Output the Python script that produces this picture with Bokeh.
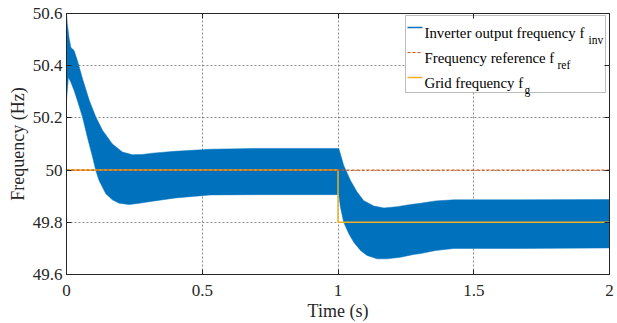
from bokeh.plotting import figure
from bokeh.models import (FixedTicker, LinearAxis, Label, Range1d, Arrow, BoxAnnotation,
                          CustomJSTickFormatter)
from bokeh.embed import file_html
from bokeh.resources import INLINE

# Inverter output frequency: upper / lower envelope of the fast oscillation (Hz)
t_upper = [0.0, 0.003, 0.01, 0.016, 0.028, 0.04, 0.059, 0.084, 0.108, 0.133, 0.169,
           0.206, 0.243, 0.28, 0.317, 0.4, 0.53, 0.7, 1.003, 1.021, 1.046, 1.071, 1.095,
           1.132, 1.169, 1.218, 1.267, 1.304, 1.36, 1.426, 1.672, 2.0]
f_upper = [50.6, 50.56, 50.503, 50.47, 50.458, 50.42, 50.35, 50.267, 50.203, 50.152, 50.10,
           50.069, 50.059, 50.06, 50.065, 50.072, 50.08, 50.083, 50.083, 50.018, 49.96, 49.915,
           49.883, 49.862, 49.855, 49.86, 49.868, 49.873, 49.882, 49.886, 49.886, 49.887]
t_lower = [0.0, 0.007, 0.016, 0.028, 0.04, 0.059, 0.077, 0.096, 0.108, 0.12, 0.145,
           0.169, 0.194, 0.231, 0.268, 0.317, 0.4, 0.53, 0.7, 1.003, 1.009, 1.021, 1.04,
           1.058, 1.083, 1.107, 1.144, 1.181, 1.23, 1.279, 1.304, 1.36, 1.426, 1.672, 2.0]
f_lower = [50.267, 50.356, 50.337, 50.305, 50.267, 50.203, 50.126, 50.05, 49.998, 49.96, 49.909,
           49.886, 49.873, 49.868, 49.873, 49.881, 49.893, 49.905, 49.906, 49.906, 49.858, 49.80,
           49.756, 49.724, 49.692, 49.673, 49.66, 49.66, 49.666, 49.677, 49.68, 49.692, 49.70,
           49.70, 49.702]

# Frequency reference and grid frequency
ref_t = [0, 2]
ref_f = [50, 50]
grid_t = [0, 1, 2]
grid_f = [50, 49.8, 49.8]

x_ticks = [0, 0.5, 1, 1.5, 2]
x_tick_labels = ["0", "0.5", "1", "1.5", "2"]
y_ticks = [49.6, 49.8, 50.0, 50.2, 50.4, 50.6]
y_tick_labels = ["49.6", "49.8", "50", "50.2", "50.4", "50.6"]

legend_labels = ["Inverter output frequency f", "Frequency reference f", "Grid frequency f"]
legend_subs = ["inv", "ref", "g"]

FONT = "Liberation Serif"
DARK = "#262626"
BLUE = "#0072BD"
RED = "#D95319"
YELLOW = "#EDB120"


def label_formatter(tv, lab):
    return CustomJSTickFormatter(args=dict(tv=tv, lab=lab), code="""
        for (let i = 0; i < tv.length; i++) {
            if (Math.abs(tv[i] - tick) < 1e-9) { return lab[i]; }
        }
        return '';
    """)


p = figure(width=617, height=323, x_range=Range1d(0, 2), y_range=Range1d(49.6, 50.6),
           output_backend="svg", toolbar_location=None,
           min_border_left=66, min_border_right=8, min_border_top=13, min_border_bottom=49)
p.background_fill_color = "white"
p.border_fill_color = "white"
p.outline_line_color = DARK
p.outline_line_width = 1

p.xaxis.ticker = FixedTicker(ticks=x_ticks)
p.xaxis.formatter = label_formatter(x_ticks, x_tick_labels)
p.yaxis.ticker = FixedTicker(ticks=y_ticks)
p.yaxis.formatter = label_formatter(y_ticks, y_tick_labels)
p.xaxis.axis_label = "Time (s)"
p.yaxis.axis_label = "Frequency (Hz)"
for ax in [p.xaxis[0], p.yaxis[0]]:
    ax.axis_line_color = DARK
    ax.major_tick_line_color = DARK
    ax.major_tick_in = 5
    ax.major_tick_out = 0
    ax.minor_tick_line_color = None
    ax.major_label_text_font = FONT
    ax.major_label_text_font_size = "17px"
    ax.major_label_text_color = DARK
    ax.axis_label_text_font = FONT
    ax.axis_label_text_font_size = "18px"
    ax.axis_label_text_font_style = "normal"
    ax.axis_label_text_color = DARK
p.yaxis.major_label_standoff = 4
p.yaxis.axis_label_standoff = 2
p.xaxis.major_label_standoff = 10
p.xaxis.axis_label_standoff = 2

top = LinearAxis(ticker=FixedTicker(ticks=x_ticks), formatter=label_formatter(x_ticks, [""] * 5),
                 major_label_standoff=0, major_tick_in=5, major_tick_out=0,
                 major_label_text_font_size="1px",
                 minor_tick_line_color=None, axis_line_color=DARK, major_tick_line_color=DARK)
right = LinearAxis(ticker=FixedTicker(ticks=y_ticks), formatter=label_formatter(y_ticks, [""] * 6),
                   major_label_standoff=0, major_tick_in=5, major_tick_out=0,
                   major_label_text_font_size="1px",
                   minor_tick_line_color=None, axis_line_color=DARK, major_tick_line_color=DARK)
p.add_layout(top, "above")
p.add_layout(right, "right")

p.xgrid.ticker = FixedTicker(ticks=x_ticks)
p.ygrid.ticker = FixedTicker(ticks=y_ticks)
p.grid.grid_line_color = "#8a8a8a"
p.grid.grid_line_dash = "2 2"
p.grid.grid_line_width = 1

# inverter output frequency band
p.patch(x=t_upper + t_lower[::-1], y=f_upper + f_lower[::-1],
        fill_color=BLUE, line_color=BLUE, line_width=0.5)
p.step(x=grid_t, y=grid_f, mode="after", line_color=YELLOW, line_width=1.5)
p.line(x=ref_t, y=ref_f, line_color=RED, line_dash="3 2", line_width=1.2)

# legend (screen units, relative to the plot frame, y from the frame bottom)
p.add_layout(BoxAnnotation(left=339, right=539, top=259, bottom=182,
                           left_units="screen", right_units="screen",
                           top_units="screen", bottom_units="screen",
                           fill_color="white", fill_alpha=1, line_color=DARK, line_width=1,
                           level="underlay"))
sample_styles = [(BLUE, "solid", 1.5), (RED, "3 2", 1.2), (YELLOW, "solid", 1.5)]
row_y = [247, 222, 197]
for (c, d, w), ry in zip(sample_styles, row_y):
    p.add_layout(Arrow(end=None, x_start=341, y_start=ry, x_end=356, y_end=ry,
                       start_units="screen", end_units="screen",
                       line_color=c, line_dash=d, line_width=w))
text_y = [242, 217, 192]
for ty, s in zip(text_y, legend_labels):
    p.add_layout(Label(x=358, y=ty, x_units="screen", y_units="screen", text=s,
                       text_font=FONT, text_font_size="14.8px", text_color="black",
                       text_baseline="alphabetic"))
sub_x = [522, 491, 458]
sub_y = [235, 210, 185]
for sx, sy, s in zip(sub_x, sub_y, legend_subs):
    p.add_layout(Label(x=sx, y=sy, x_units="screen", y_units="screen", text=s,
                       text_font=FONT, text_font_size="11.5px", text_color="black",
                       text_baseline="alphabetic"))

open("out.html", "w").write(file_html(p, INLINE))
